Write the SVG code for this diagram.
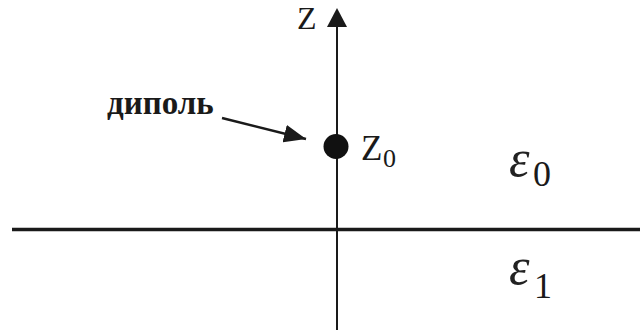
<svg xmlns="http://www.w3.org/2000/svg" width="640" height="333" viewBox="0 0 640 333">
<style>
.ln{stroke:#1a1a1a;fill:none}
.t{font-family:"Liberation Serif","Times New Roman",serif;fill:#1a1a1a}
.m{font-family:"Liberation Serif","Times New Roman",serif;font-style:italic;fill:#222}
</style>
<defs>
<marker id="ah" markerWidth="22" markerHeight="18" refX="22" refY="9" orient="auto" markerUnits="userSpaceOnUse">
<path d="M0,0 L22,9 L0,18 Z" fill="#1a1a1a"/>
</marker>
</defs>
<rect width="640" height="333" fill="#fff"/>
<g id="connectors">
<line class="ln" x1="337" y1="330" x2="337" y2="26" stroke-width="2"/>
<path d="M337,8 L327,27 L347,27 Z" fill="#1a1a1a"/>
<line class="ln" x1="12" y1="229.5" x2="640" y2="229.5" stroke-width="3.5"/>
<line class="ln" x1="222" y1="118" x2="306" y2="139" stroke-width="2.5" marker-end="url(#ah)"/>
</g>
<g id="axis-label">
<text class="t" x="297" y="29" font-size="32">Z</text>
</g>
<g id="dipole">
<circle cx="336" cy="146.5" r="12.5" fill="#111"/>
<text class="t" x="361" y="160" font-size="35">Z</text>
<text class="t" x="383" y="167" font-size="26">0</text>
</g>
<g id="dipole-label">
<text class="t" x="107" y="114" font-size="33" font-weight="bold">диполь</text>
</g>
<g id="eps0">
<text class="m" x="509" y="176" font-size="52">ε</text>
<text class="t" x="533" y="186" font-size="36">0</text>
</g>
<g id="eps1">
<text class="m" x="509" y="284" font-size="52">ε</text>
<text class="t" x="534" y="298" font-size="36">1</text>
</g>
</svg>
